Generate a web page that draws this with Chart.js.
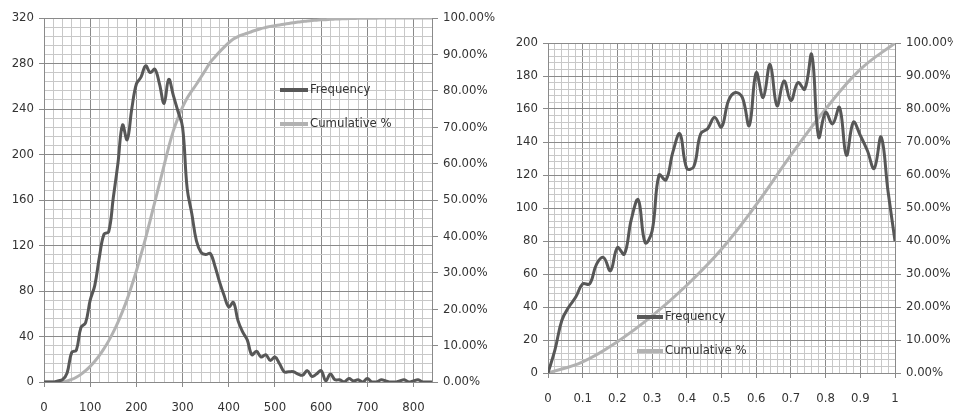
<!DOCTYPE html>
<html>
<head>
<meta charset="utf-8">
<script src="https://cdn.jsdelivr.net/npm/chart.js@4.4.1/dist/chart.umd.min.js"></script>
<style>
  html, body { margin: 0; padding: 0; background: #fff; }
  #wrap { position: relative; width: 953px; height: 419px; overflow: hidden; }
  canvas { position: absolute; top: 0; }
  #leftChart { left: 0; }
  #rightChart { left: 505px; }
</style>
</head>
<body>
<div id="wrap">
  <canvas id="leftChart" width="505" height="419"></canvas>
  <canvas id="rightChart" width="448" height="419"></canvas>
</div>
<script>
// --- left chart: bins of 10 from 0 to 840
const leftBins = [
  0, 10, 20, 30, 40, 50, 60, 70, 80, 90,
  100, 110, 120, 130, 140, 150, 160, 170, 180, 190,
  200, 210, 220, 230, 240, 250, 260, 270, 280, 290,
  300, 310, 320, 330, 340, 350, 360, 370, 380, 390,
  400, 410, 420, 430, 440, 450, 460, 470, 480, 490,
  500, 510, 520, 530, 540, 550, 560, 570, 580, 590,
  600, 610, 620, 630, 640, 650, 660, 670, 680, 690,
  700, 710, 720, 730, 740, 750, 760, 770, 780, 790,
  800, 810, 820, 830, 840
];
const leftFreq = [
  0, 0, 0, 1, 2, 8, 26, 28, 48, 52,
  72, 85, 110, 130, 132, 162, 192, 226, 213, 240,
  262, 268, 278, 272, 275, 262, 245, 266, 252, 238,
  224, 170, 148, 124, 114, 112, 113, 102, 88, 76,
  66, 70, 54, 44, 37, 24, 27, 22, 24, 19,
  22, 16, 9, 9, 9, 7, 6, 10, 5, 7,
  10, 1, 7, 2, 2, 0, 3, 1, 2, 0,
  3, 0, 0, 2, 1, 0, 0, 1, 2, 0,
  1, 2, 0, 0, 0
];
const leftCum = [
  0, 0, 0, 0, 0.1, 0.3, 0.7, 1.3, 2.1, 3.1,
  4.3, 5.7, 7.3, 9.2, 11.3, 13.7, 16.4, 19.4, 22.7, 26.5,
  30.5, 35, 39.5, 44.5, 49.5, 54.5, 59.5, 64.5, 69, 72.5,
  75.5, 78, 80, 81.8, 83.8, 85.8, 87.8, 89.3, 90.7, 92,
  93.2, 94.2, 94.9, 95.4, 95.8, 96.3, 96.7, 97.1, 97.4, 97.7,
  97.9, 98.1, 98.3, 98.5, 98.7, 98.9, 99.05, 99.2, 99.3, 99.4,
  99.5, 99.55, 99.65, 99.7, 99.75, 99.8, 99.85, 99.88, 99.9, 99.92,
  99.94, 99.95, 99.96, 99.97, 99.97, 99.98, 99.98, 99.98, 99.99, 99.99,
  99.99, 100, 100, 100, 100
];

// --- right chart: bins of 0.02 from 0 to 1
const rightBins = [
  0, 0.02, 0.04, 0.06, 0.08, 0.1, 0.12, 0.14, 0.16, 0.18,
  0.2, 0.22, 0.24, 0.26, 0.28, 0.3, 0.32, 0.34, 0.36, 0.38,
  0.4, 0.42, 0.44, 0.46, 0.48, 0.5, 0.52, 0.54, 0.56, 0.58,
  0.6, 0.62, 0.64, 0.66, 0.68, 0.7, 0.72, 0.74, 0.76, 0.78,
  0.8, 0.82, 0.84, 0.86, 0.88, 0.9, 0.92, 0.94, 0.96, 0.98,
  1
];
const rightFreq = [
  0, 14, 32, 40, 46, 54, 54, 66, 70, 62,
  76, 72, 93, 105, 79, 86, 120, 117, 134, 145,
  124, 125, 145, 148, 155, 149, 165, 170, 167, 150,
  182, 167, 187, 162, 177, 165, 176, 172, 193, 143,
  158, 151, 161, 132, 152, 144, 135, 124, 143, 110,
  80
];
const rightCumBins = [0, 0.1, 0.2, 0.3, 0.4, 0.5, 0.6, 0.7, 0.8, 0.9, 1];
const rightCum = [0, 3.4, 9.5, 17.3, 26.6, 37.5, 51, 66, 80, 92, 100];

const FONT = "'DejaVu Sans Condensed', 'DejaVu Sans', sans-serif";
const FONT_SIZE = 13;
const TEXT = "#333333";
const MAJOR = "#8a8a8a";
const MINOR = "#c8c8c8";
const FREQ_COLOR = "#575757";
const CUM_COLOR = "#b2b2b2";

function isMajor(v, every) {
  const r = v / every;
  return Math.abs(r - Math.round(r)) < 1e-6;
}

function points(xs, ys) {
  return xs.map((x, i) => ({ x: x, y: ys[i] }));
}

// legend drawn inside the plot, like the spreadsheet version
const inlineLegend = {
  id: "inlineLegend",
  afterDraw(chart, args, opts) {
    const ctx = chart.ctx;
    ctx.save();
    chart.data.datasets.forEach((ds, i) => {
      const y = opts.y + i * opts.gap;
      ctx.strokeStyle = ds.borderColor;
      ctx.lineWidth = 4;
      ctx.beginPath();
      ctx.moveTo(opts.x, y);
      ctx.lineTo(opts.x + opts.len, y);
      ctx.stroke();
      ctx.fillStyle = TEXT;
      ctx.font = FONT_SIZE + "px " + FONT;
      ctx.textBaseline = "middle";
      ctx.fillText(ds.label, opts.x + opts.len + 2, y);
    });
    ctx.restore();
  }
};

function gridScale(min, max, step, major, size, labelFn, padding) {
  return {
    type: "linear",
    min: min,
    max: max,
    afterFit: s => {
      if (s.isHorizontal()) s.height = size; else s.width = size;
    },
    ticks: {
      stepSize: step,
      autoSkip: false,
      maxRotation: 0,
      padding: padding,
      color: TEXT,
      font: { family: FONT, size: FONT_SIZE },
      callback: v => (isMajor(v, major) ? labelFn(v) : "")
    },
    grid: {
      color: c => (isMajor(c.tick.value, major) ? MAJOR : MINOR),
      tickColor: c => (isMajor(c.tick.value, major) ? MAJOR : "rgba(0,0,0,0)"),
      tickLength: 5
    },
    border: { color: MAJOR }
  };
}

function pctScale(size) {
  return {
    type: "linear",
    position: "right",
    min: 0,
    max: 100,
    afterFit: s => { s.width = size; },
    ticks: {
      stepSize: 10,
      padding: 5,
      color: TEXT,
      font: { family: FONT, size: FONT_SIZE },
      callback: v => v.toFixed(2) + "%"
    },
    grid: { drawOnChartArea: false, color: MAJOR, tickLength: 6 },
    border: { color: MAJOR }
  };
}

function makeChart(id, data, scales, padTop, legendPos) {
  return new Chart(document.getElementById(id), {
    type: "line",
    data: data,
    options: {
      responsive: false,
      animation: false,
      devicePixelRatio: 1,
      layout: { padding: { top: padTop, left: 0, right: 0, bottom: 0 } },
      elements: { point: { radius: 0 } },
      plugins: {
        legend: { display: false },
        tooltip: { enabled: false },
        inlineLegend: legendPos
      },
      scales: scales
    },
    plugins: [inlineLegend]
  });
}

makeChart("leftChart", {
  datasets: [
    {
      label: "Frequency",
      data: points(leftBins, leftFreq),
      borderColor: FREQ_COLOR,
      borderWidth: 3,
      tension: 0.4,
      yAxisID: "y"
    },
    {
      label: "Cumulative %",
      data: points(leftBins, leftCum),
      borderColor: CUM_COLOR,
      borderWidth: 3,
      tension: 0.4,
      yAxisID: "y1"
    }
  ]
}, {
  x: gridScale(0, 840, 20, 100, 37, v => String(v), 13),
  y: gridScale(0, 320, 8, 40, 44, v => String(v), 5),
  y1: pctScale(73)
}, 18, { x: 280, y: 90, gap: 34, len: 28 });

makeChart("rightChart", {
  datasets: [
    {
      label: "Frequency",
      data: points(rightBins, rightFreq),
      borderColor: FREQ_COLOR,
      borderWidth: 3,
      tension: 0.4,
      yAxisID: "y"
    },
    {
      label: "Cumulative %",
      data: points(rightCumBins, rightCum),
      borderColor: CUM_COLOR,
      borderWidth: 3,
      tension: 0.4,
      yAxisID: "y1"
    }
  ]
}, {
  x: gridScale(0, 1, 0.02, 0.1, 46, v => String(v), 13),
  y: gridScale(0, 200, 4, 20, 43, v => String(v), 5),
  y1: pctScale(58)
}, 43, { x: 132, y: 317, gap: 34, len: 26 });
</script>
</body>
</html>
